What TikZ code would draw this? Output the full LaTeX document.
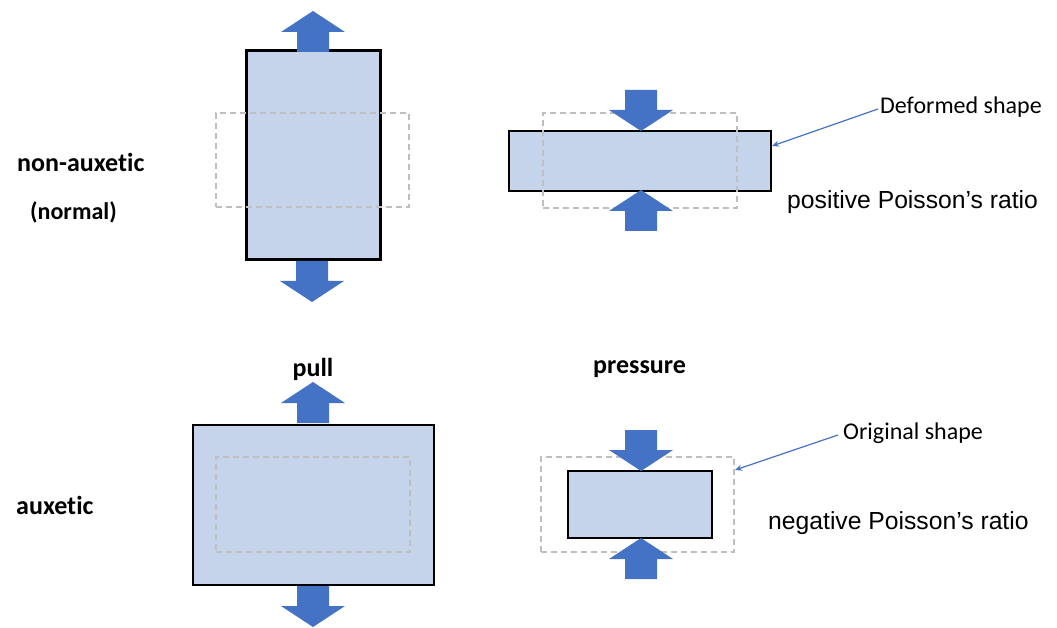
\documentclass[tikz,border=0pt]{standalone}
\usepackage{fontspec}
\setmainfont[Ligatures={NoCommon}]{Carlito}
\newfontfamily\arialf{Liberation Sans}
\usetikzlibrary{arrows.meta}
\definecolor{boxfill}{HTML}{C5D3EB}
\definecolor{arrblue}{HTML}{4472C4}
\definecolor{dashgray}{HTML}{BFBFBF}
\tikzset{
  solidbox/.style={draw=black, line width=2.3pt, fill=boxfill, inner sep=0pt, outer sep=0pt},
  origbox/.style={draw=dashgray, line width=1.6pt, dash pattern=on 6pt off 4pt, inner sep=0pt, outer sep=0pt},
  bigarrow/.pic={\fill[arrblue] (0,0) -- (32,21) -- (16,21) -- (16,41) -- (-16,41) -- (-16,21) -- (-32,21) -- cycle;},
  lbl/.style={font=\fontsize{26pt}{30pt}\selectfont\bfseries, inner sep=0pt},
  callout/.style={font=\fontsize{24pt}{28pt}\selectfont, inner sep=0pt, anchor=west},
  ratio/.style={font=\arialf\fontsize{24.7pt}{29pt}\selectfont, inner sep=0pt, anchor=west},
  calloutline/.style={draw=arrblue, line width=1.2pt, -{Stealth[length=7pt,width=6pt]}}
}
\begin{document}
\begin{tikzpicture}[x=1pt,y=-1pt]
\useasboundingbox (0,0) rectangle (1057,628);
% top-left: pull, non-auxetic
\node[solidbox, minimum width=134pt, minimum height=209pt] (r1) at (313.5,155) {};
\node[origbox, minimum width=193pt, minimum height=94pt] (d1) at (312.5,160) {};
\pic at (313,11) {bigarrow};
\pic[rotate=180] at (312,302) {bigarrow};
% top-right: pressure, non-auxetic
\node[solidbox, minimum width=262pt, minimum height=60pt] (r2) at (640,161) {};
\node[origbox, minimum width=194pt, minimum height=95pt] (d2) at (640,160.5) {};
\pic[rotate=180] at (641,131) {bigarrow};
\pic at (641,190) {bigarrow};
% bottom-left: pull, auxetic
\node[solidbox, minimum width=241pt, minimum height=160pt] (r3) at (313.5,505) {};
\node[origbox, minimum width=194pt, minimum height=95pt] (d3) at (313,504.5) {};
\pic at (313,382) {bigarrow};
\pic[rotate=180] at (313,627) {bigarrow};
% bottom-right: pressure, auxetic
\node[solidbox, minimum width=144pt, minimum height=67pt] (r4) at (640,504.5) {};
\node[origbox, minimum width=193pt, minimum height=95pt] (d4) at (637.5,504.5) {};
\pic[rotate=180] at (641,471) {bigarrow};
\pic at (641,538) {bigarrow};
% labels
\node[lbl, anchor=west] (nonaux) at (17,162) {non-auxetic};
\node[lbl, anchor=west, font=\fontsize{24pt}{28pt}\selectfont\bfseries] (normal) at (30,212) {(normal)};
\node[lbl, anchor=west] (aux) at (16,505) {auxetic};
\node[lbl] (pull) at (313,369) {pull};
\node[lbl] (press) at (639.5,369) {pressure};
% callouts
\node[callout] (deftxt) at (880,107) {Deformed shape};
\node[callout] (origtxt) at (843,433) {Original shape};
\node[ratio] (posr) at (787,202) {positive Poisson’s ratio};
\node[ratio] (negr) at (768,523) {negative Poisson’s ratio};
\coordinate (deftip) at (772,146);
\coordinate (origtip) at (735,470);
\draw[calloutline] (deftxt.west) ++(-2,2) coordinate (defstart) (defstart) -- (deftip);
\draw[calloutline] (origtxt.west) ++(-5,2) coordinate (origstart) (origstart) -- (origtip);
\end{tikzpicture}
\end{document}
